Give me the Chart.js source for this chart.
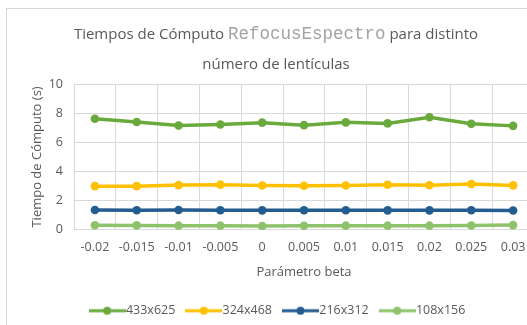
<!DOCTYPE html>
<html>
<head>
<meta charset="utf-8">
<script src="https://cdn.jsdelivr.net/npm/chart.js@4.4.1/dist/chart.umd.min.js"></script>
<style>
  html, body { margin: 0; padding: 0; background: #fff; overflow: hidden; }
  body { width: 527px; height: 325px; position: relative; }
  #box {
    position: absolute; left: 6px; top: 8px;
    width: 538px; height: 330px;
    border: 1px solid #d9d9d9; background: #fff;
  }
  #titulo {
    position: absolute; left: 0; top: 10px; width: 538px;
    text-align: center; color: #595959;
    font-family: "Open Sans", sans-serif; font-size: 15px; line-height: 29px;
  }
  #titulo .mono { font-family: "Liberation Mono", monospace; font-size: 17.5px; color: #a3a3a3; }
  #wrap { position: absolute; left: 0; top: 0; width: 538px; height: 318px; }
</style>
</head>
<body>
<div id="box">
  <div id="wrap"><canvas id="chart"></canvas></div>
  <div id="titulo">Tiempos de Cómputo <span class="mono">RefocusEspectro</span> para distinto<br>número de lentículas</div>
</div>
<script>
// valores de beta (eje x)
const betas = ['-0.02', '-0.015', '-0.01', '-0.005', '0', '0.005', '0.01', '0.015', '0.02', '0.025', '0.03'];

// tiempos medidos (s) por número de lentículas
const t433x625 = [7.62, 7.40, 7.15, 7.22, 7.35, 7.18, 7.37, 7.30, 7.72, 7.27, 7.13];
const t324x468 = [3.00, 3.00, 3.07, 3.10, 3.04, 3.03, 3.04, 3.09, 3.06, 3.15, 3.05];
const t216x312 = [1.36, 1.35, 1.36, 1.35, 1.34, 1.35, 1.35, 1.34, 1.34, 1.35, 1.33];
const t108x156 = [0.32, 0.31, 0.29, 0.29, 0.26, 0.28, 0.29, 0.29, 0.29, 0.30, 0.33];

const yTicks = [0, 2, 4, 6, 8, 10];

const series = [
  { label: '433x625', data: t433x625, color: '#6aaa3c' },
  { label: '324x468', data: t324x468, color: '#ffc000' },
  { label: '216x312', data: t216x312, color: '#235c8f' },
  { label: '108x156', data: t108x156, color: '#8fc36b' }
];

const gris = '#595959';
const rejilla = '#d9d9d9';
const fuente = { family: 'Open Sans', size: 12.5 };

// icono de leyenda: línea con marcador
function iconoLeyenda(color) {
  const c = document.createElement('canvas');
  c.width = 37; c.height = 10;
  const g = c.getContext('2d');
  g.strokeStyle = color;
  g.lineWidth = 3;
  g.beginPath(); g.moveTo(0, 5); g.lineTo(37, 5); g.stroke();
  g.fillStyle = color;
  g.beginPath(); g.arc(18.5, 5, 4, 0, Math.PI * 2); g.fill();
  return c;
}
const iconos = series.map(s => iconoLeyenda(s.color));

const ctx = document.getElementById('chart').getContext('2d');
const chart = new Chart(ctx, {
  type: 'line',
  data: {
    labels: betas,
    datasets: series.map(s => ({
      label: s.label,
      data: s.data,
      borderColor: s.color,
      backgroundColor: s.color,
      pointBackgroundColor: s.color,
      pointBorderWidth: 0,
      pointRadius: 4.3,
      borderWidth: 3.5,
      tension: 0,
      fill: false
    }))
  },
  options: {
    responsive: true,
    maintainAspectRatio: false,
    animation: false,
    layout: { padding: { top: 75, left: 19, right: 11, bottom: 0 } },
    plugins: {
      title: { display: false },
      tooltip: { enabled: false },
      legend: {
        position: 'bottom',
        labels: {
          usePointStyle: true,
          pointStyleWidth: 25,
          boxHeight: 10,
          padding: 16,
          color: gris,
          font: fuente,
          generateLabels(ch) {
            const items = Chart.defaults.plugins.legend.labels.generateLabels(ch);
            items.forEach((it, i) => { it.pointStyle = iconos[i]; });
            return items;
          }
        }
      }
    },
    scales: {
      x: {
        offset: true,
        grid: { color: rejilla, lineWidth: 1, drawTicks: false, offset: true },
        border: { color: rejilla },
        ticks: { color: gris, font: fuente, padding: 10, maxRotation: 0, autoSkip: false },
        title: { display: true, text: 'Parámetro beta', color: gris, font: { family: 'Open Sans', size: 13 }, padding: { top: 0, bottom: 8 } }
      },
      y: {
        min: 0,
        max: 10,
        afterBuildTicks(scale) { scale.ticks = yTicks.map(v => ({ value: v })); },
        afterFit(scale) { scale.width = 48; },
        grid: { color: rejilla, lineWidth: 1, drawTicks: false },
        border: { display: false },
        ticks: { color: gris, font: fuente, padding: 11 },
        title: { display: true, text: 'Tiempo de Cómputo (s)', color: gris, font: { family: 'Open Sans', size: 13 }, padding: { top: 3 } }
      }
    }
  }
});
</script>
</body>
</html>
